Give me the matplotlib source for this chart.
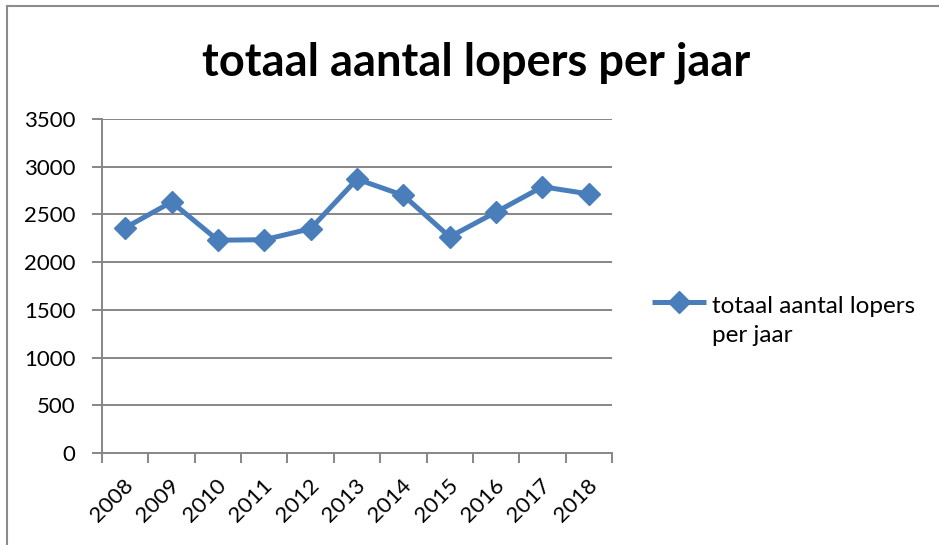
import matplotlib
matplotlib.use("Agg")
import matplotlib.pyplot as plt
from matplotlib.lines import Line2D
import matplotlib.transforms as mtrans
import numpy as np

years = ["2008", "2009", "2010", "2011", "2012", "2013", "2014", "2015", "2016", "2017", "2018"]
lopers = [2360, 2630, 2230, 2235, 2350, 2870, 2700, 2265, 2525, 2790, 2715]
series_name = "totaal aantal lopers per jaar"
legend_label = "totaal aantal lopers\nper jaar"
title = "totaal aantal lopers per jaar"
yticks = [0, 500, 1000, 1500, 2000, 2500, 3000, 3500]

plt.rcParams['font.family'] = ['Lato', 'DejaVu Sans']

W, H = 939, 545
fig = plt.figure(figsize=(W / 100, H / 100), dpi=100)
ax = fig.add_axes([102 / W, (H - 453) / H, (612 - 102) / W, (453 - 119) / H])

color = "#4A7EBB"
grid = "#868686"
x = np.arange(len(years))
ax.plot(x, lopers, color=color, lw=3.6, marker="D", ms=11.5, mec=color, mfc=color,
        solid_joinstyle="round", label=series_name)

ax.set_ylim(0, 3500)
ax.set_xlim(-0.5, len(years) - 0.5)
ax.set_yticks(yticks)
ax.set_yticklabels([str(v) for v in yticks])
for v in yticks[1:]:
    ax.axhline(v, color=grid, lw=1.4, zorder=0)

ax.set_xticks(x)
ax.set_xticklabels(years, rotation=45, ha="right", va="top", rotation_mode="anchor")
ax.set_xticks(np.arange(-0.5, len(years), 1.0), minor=True)
ax.tick_params(axis="x", which="major", length=0, pad=16, labelsize=16)
ax.tick_params(axis="x", which="minor", length=7, width=1.4, color=grid, direction="out")
ax.tick_params(axis="y", length=7, width=1.4, color=grid, direction="out", pad=12, labelsize=16)
for lbl in ax.get_xticklabels():
    lbl.set_transform(lbl.get_transform() + mtrans.ScaledTranslation(-2 / 100, 0, fig.dpi_scale_trans))

for s in ["top", "right"]:
    ax.spines[s].set_visible(False)
for s in ["left", "bottom"]:
    ax.spines[s].set_color(grid)
    ax.spines[s].set_linewidth(1.4)

fig.text(476 / W, 1 - 76 / H, title, ha="center", va="baseline", fontsize=32.5, fontweight="bold")

# legend (handle aligned with first text line, as in the reference)
fig.add_artist(Line2D([652 / W, 706 / W], [1 - 302 / H, 1 - 302 / H], color=color, lw=3.6,
                      solid_capstyle="butt", transform=fig.transFigure))
fig.add_artist(Line2D([679 / W], [1 - 302 / H], color=color, marker="D", ms=11.5, mfc=color, mec=color,
                      transform=fig.transFigure))
fig.text(712 / W, 1 - 342 / H, legend_label, ha="left", va="baseline", fontsize=17.5, linespacing=1.45)

# chart border (left and top)
fig.add_artist(Line2D([7 / W, 7 / W], [0, 1 - 6 / H], color="#8c8c8c", lw=1.5, transform=fig.transFigure))
fig.add_artist(Line2D([7 / W, 1], [1 - 6 / H, 1 - 6 / H], color="#8c8c8c", lw=1.5, transform=fig.transFigure))

fig.savefig("out.png", dpi=100, facecolor="white")
